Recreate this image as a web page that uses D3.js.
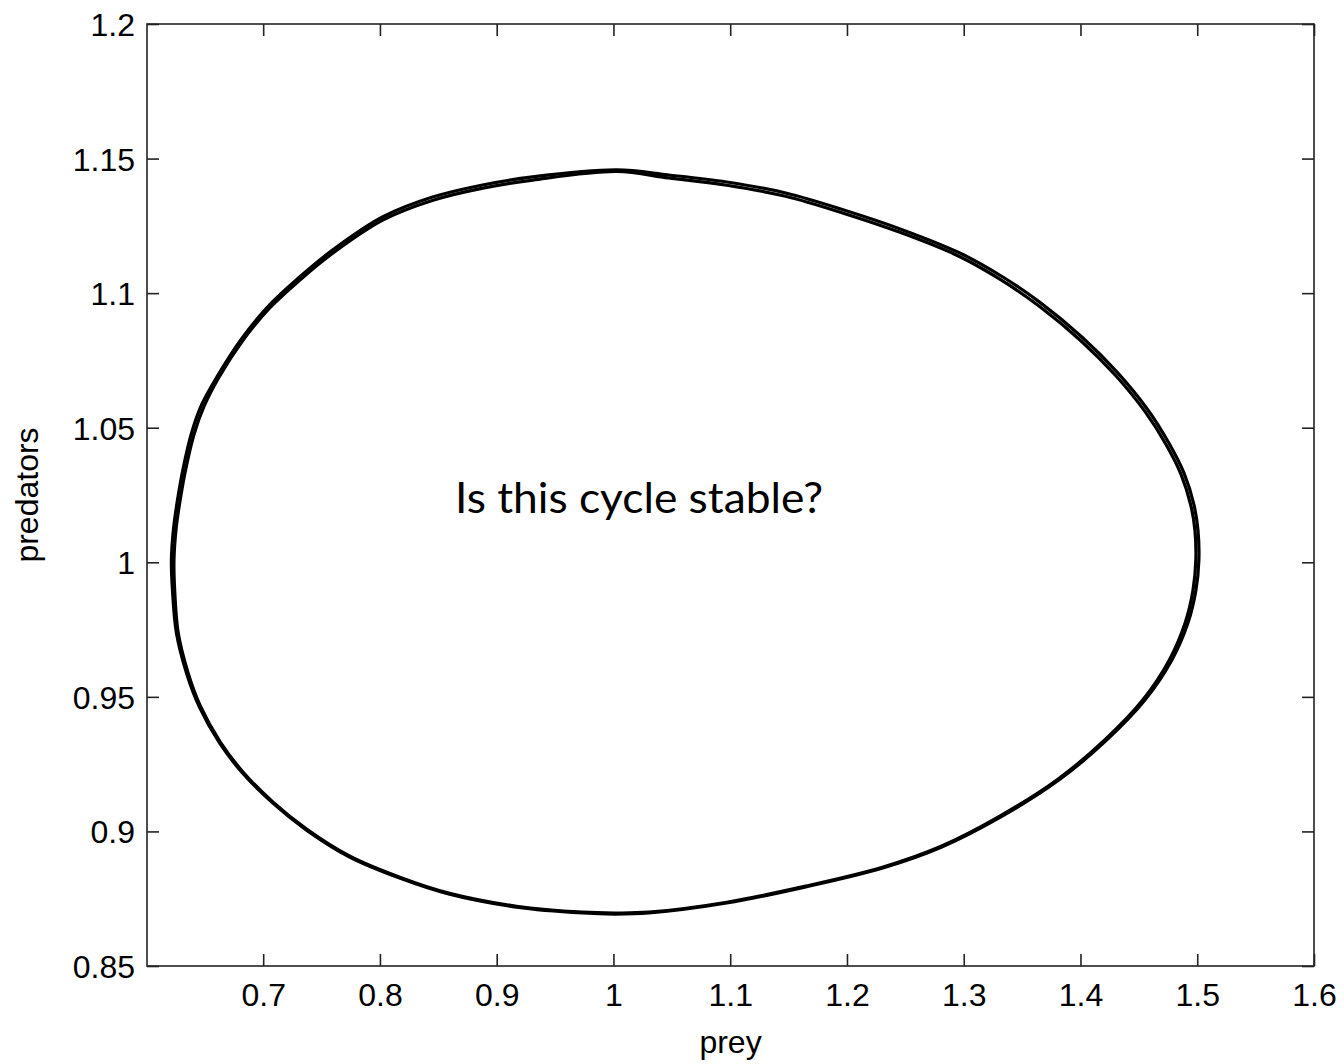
<!DOCTYPE html>
<html>
<head>
<meta charset="utf-8">
<script src="https://cdn.jsdelivr.net/npm/d3@7"></script>
<style>
  html, body { margin: 0; padding: 0; background: #fff; }
  svg { display: block; }
  .tick text { font-family: "Liberation Sans", Arial, sans-serif; font-size: 32px; fill: #000; }
  .tick line { stroke: #222; stroke-width: 1.6; }
</style>
</head>
<body>
<svg id="chart" width="1344" height="1064"></svg>
<script>
// Phase-plane orbit of the predator-prey model: two passes around the cycle
const preyTicks = [0.7, 0.8, 0.9, 1.0, 1.1, 1.2, 1.3, 1.4, 1.5, 1.6];
const predTicks = [0.85, 0.9, 0.95, 1.0, 1.05, 1.1, 1.15, 1.2];

const passA_prey = [1.5014, 1.5006, 1.4972, 1.4886, 1.4757, 1.4578, 1.4321, 1.4012, 1.3661, 1.3335,
  1.2967, 1.2478, 1.1973, 1.1476, 1.0970, 1.0473, 1.0027, 0.9308, 0.8879, 0.8451,
  0.8022, 0.7594, 0.7302, 0.7045, 0.6814, 0.6608, 0.6471, 0.6386, 0.6317, 0.6266,
  0.6231, 0.6214, 0.6223, 0.6257, 0.6343, 0.6454, 0.6626, 0.6823, 0.7080, 0.7371,
  0.7740, 0.8168, 0.8596, 0.9171, 0.9736, 1.0010, 1.0302, 1.0970, 1.1638, 1.2307,
  1.2812, 1.3318, 1.3815, 1.4226, 1.4552, 1.4783, 1.4920, 1.4989];
const passA_pred = [1.0009, 1.0120, 1.0213, 1.0332, 1.0443, 1.0566, 1.0703, 1.0837, 1.0963, 1.1060,
  1.1149, 1.1235, 1.1309, 1.1372, 1.1413, 1.1439, 1.1458, 1.1432, 1.1402, 1.1357,
  1.1283, 1.1160, 1.1056, 1.0952, 1.0830, 1.0692, 1.0584, 1.0480, 1.0354, 1.0231,
  1.0120, 1.0009, 0.9897, 0.9737, 0.9589, 0.9462, 0.9329, 0.9217, 0.9106, 0.9005,
  0.8905, 0.8827, 0.8767, 0.8719, 0.8697, 0.8693, 0.8697, 0.8734, 0.8793, 0.8864,
  0.8942, 0.9054, 0.9191, 0.9340, 0.9488, 0.9637, 0.9774, 0.9897];

const passB_prey = [1.4988, 1.4980, 1.4946, 1.4862, 1.4735, 1.4558, 1.4303, 1.3996, 1.3647, 1.3323,
  1.2959, 1.2472, 1.1969, 1.1474, 1.0970, 1.0473, 1.0027, 0.9310, 0.8882, 0.8455,
  0.8028, 0.7601, 0.7310, 0.7054, 0.6824, 0.6619, 0.6493, 0.6408, 0.6339, 0.6288,
  0.6253, 0.6236, 0.6242, 0.6272, 0.6355, 0.6463, 0.6633, 0.6829, 0.7085, 0.7375,
  0.7743, 0.8170, 0.8597, 0.9171, 0.9736, 1.0010, 1.0302, 1.0970, 1.1636, 1.2303,
  1.2806, 1.3309, 1.3803, 1.4210, 1.4533, 1.4761, 1.4896, 1.4964];
const passB_pred = [1.0009, 1.0120, 1.0210, 1.0326, 1.0436, 1.0557, 1.0693, 1.0826, 1.0951, 1.1048,
  1.1137, 1.1223, 1.1297, 1.1360, 1.1401, 1.1428, 1.1452, 1.1420, 1.1390, 1.1345,
  1.1272, 1.1150, 1.1047, 1.0944, 1.0823, 1.0686, 1.0579, 1.0476, 1.0351, 1.0229,
  1.0120, 1.0009, 0.9897, 0.9739, 0.9592, 0.9465, 0.9332, 0.9220, 0.9109, 0.9008,
  0.8908, 0.8830, 0.8770, 0.8722, 0.8700, 0.8697, 0.8700, 0.8737, 0.8796, 0.8867,
  0.8945, 0.9057, 0.9193, 0.9341, 0.9488, 0.9637, 0.9774, 0.9897];

const xLabel = "prey";
const yLabel = "predators";
const note = "Is this cycle stable?";

const svg = d3.select("#chart");
const plot = { left: 147, right: 1314, top: 24, bottom: 966 };

const x = d3.scaleLinear().domain([0.6005, 1.6]).range([plot.left, plot.right]);
const y = d3.scaleLinear().domain([0.85, 1.2]).range([plot.bottom, plot.top]);

// Frame
svg.append("rect")
  .attr("x", plot.left).attr("y", plot.top)
  .attr("width", plot.right - plot.left).attr("height", plot.bottom - plot.top)
  .attr("fill", "none").attr("stroke", "#222").attr("stroke-width", 1.6);

// Ticks point inward on all four sides, labels only bottom and left
const fmt = d => String(+d.toFixed(2));
svg.append("g").attr("transform", `translate(0,${plot.bottom})`)
  .call(d3.axisBottom(x).tickValues(preyTicks).tickFormat(fmt).tickSizeInner(-12).tickSizeOuter(0).tickPadding(17));
const left = svg.append("g").attr("transform", `translate(${plot.left},0)`)
  .call(d3.axisLeft(y).tickValues(predTicks).tickFormat(fmt).tickSizeInner(-12).tickSizeOuter(0).tickPadding(12));
left.selectAll(".tick text").attr("dy", "0.36em");
svg.append("g").attr("transform", `translate(0,${plot.top})`)
  .call(d3.axisTop(x).tickValues(preyTicks).tickFormat("").tickSizeInner(-12).tickSizeOuter(0));
svg.append("g").attr("transform", `translate(${plot.right},0)`)
  .call(d3.axisRight(y).tickValues(predTicks).tickFormat("").tickSizeInner(-12).tickSizeOuter(0));
svg.selectAll(".domain").remove();

// Orbit traces
const line = d3.line().x(d => x(d[0])).y(d => y(d[1])).curve(d3.curveCatmullRomClosed.alpha(0.5));
const passes = [d3.zip(passA_prey, passA_pred), d3.zip(passB_prey, passB_pred)];
svg.append("g").selectAll("path").data(passes).join("path")
  .attr("d", line)
  .attr("fill", "none")
  .attr("stroke", "#000")
  .attr("stroke-width", 3.2)
  .attr("stroke-linejoin", "round");

// Axis titles
svg.append("text")
  .attr("x", (plot.left + plot.right) / 2).attr("y", 1053)
  .attr("text-anchor", "middle")
  .style("font-family", "'Liberation Sans', Arial, sans-serif").style("font-size", "32px")
  .text(xLabel);
svg.append("text")
  .attr("transform", `translate(38,${(plot.top + plot.bottom) / 2}) rotate(-90)`)
  .attr("text-anchor", "middle")
  .style("font-family", "'Liberation Sans', Arial, sans-serif").style("font-size", "32px")
  .text(yLabel);

// Annotation inside the plot
svg.append("text")
  .attr("x", 455).attr("y", 513)
  .attr("textLength", 368).attr("lengthAdjust", "spacingAndGlyphs")
  .style("font-family", "Lato, 'Open Sans', sans-serif").style("font-size", "42px")
  .text(note);
</script>
</body>
</html>
